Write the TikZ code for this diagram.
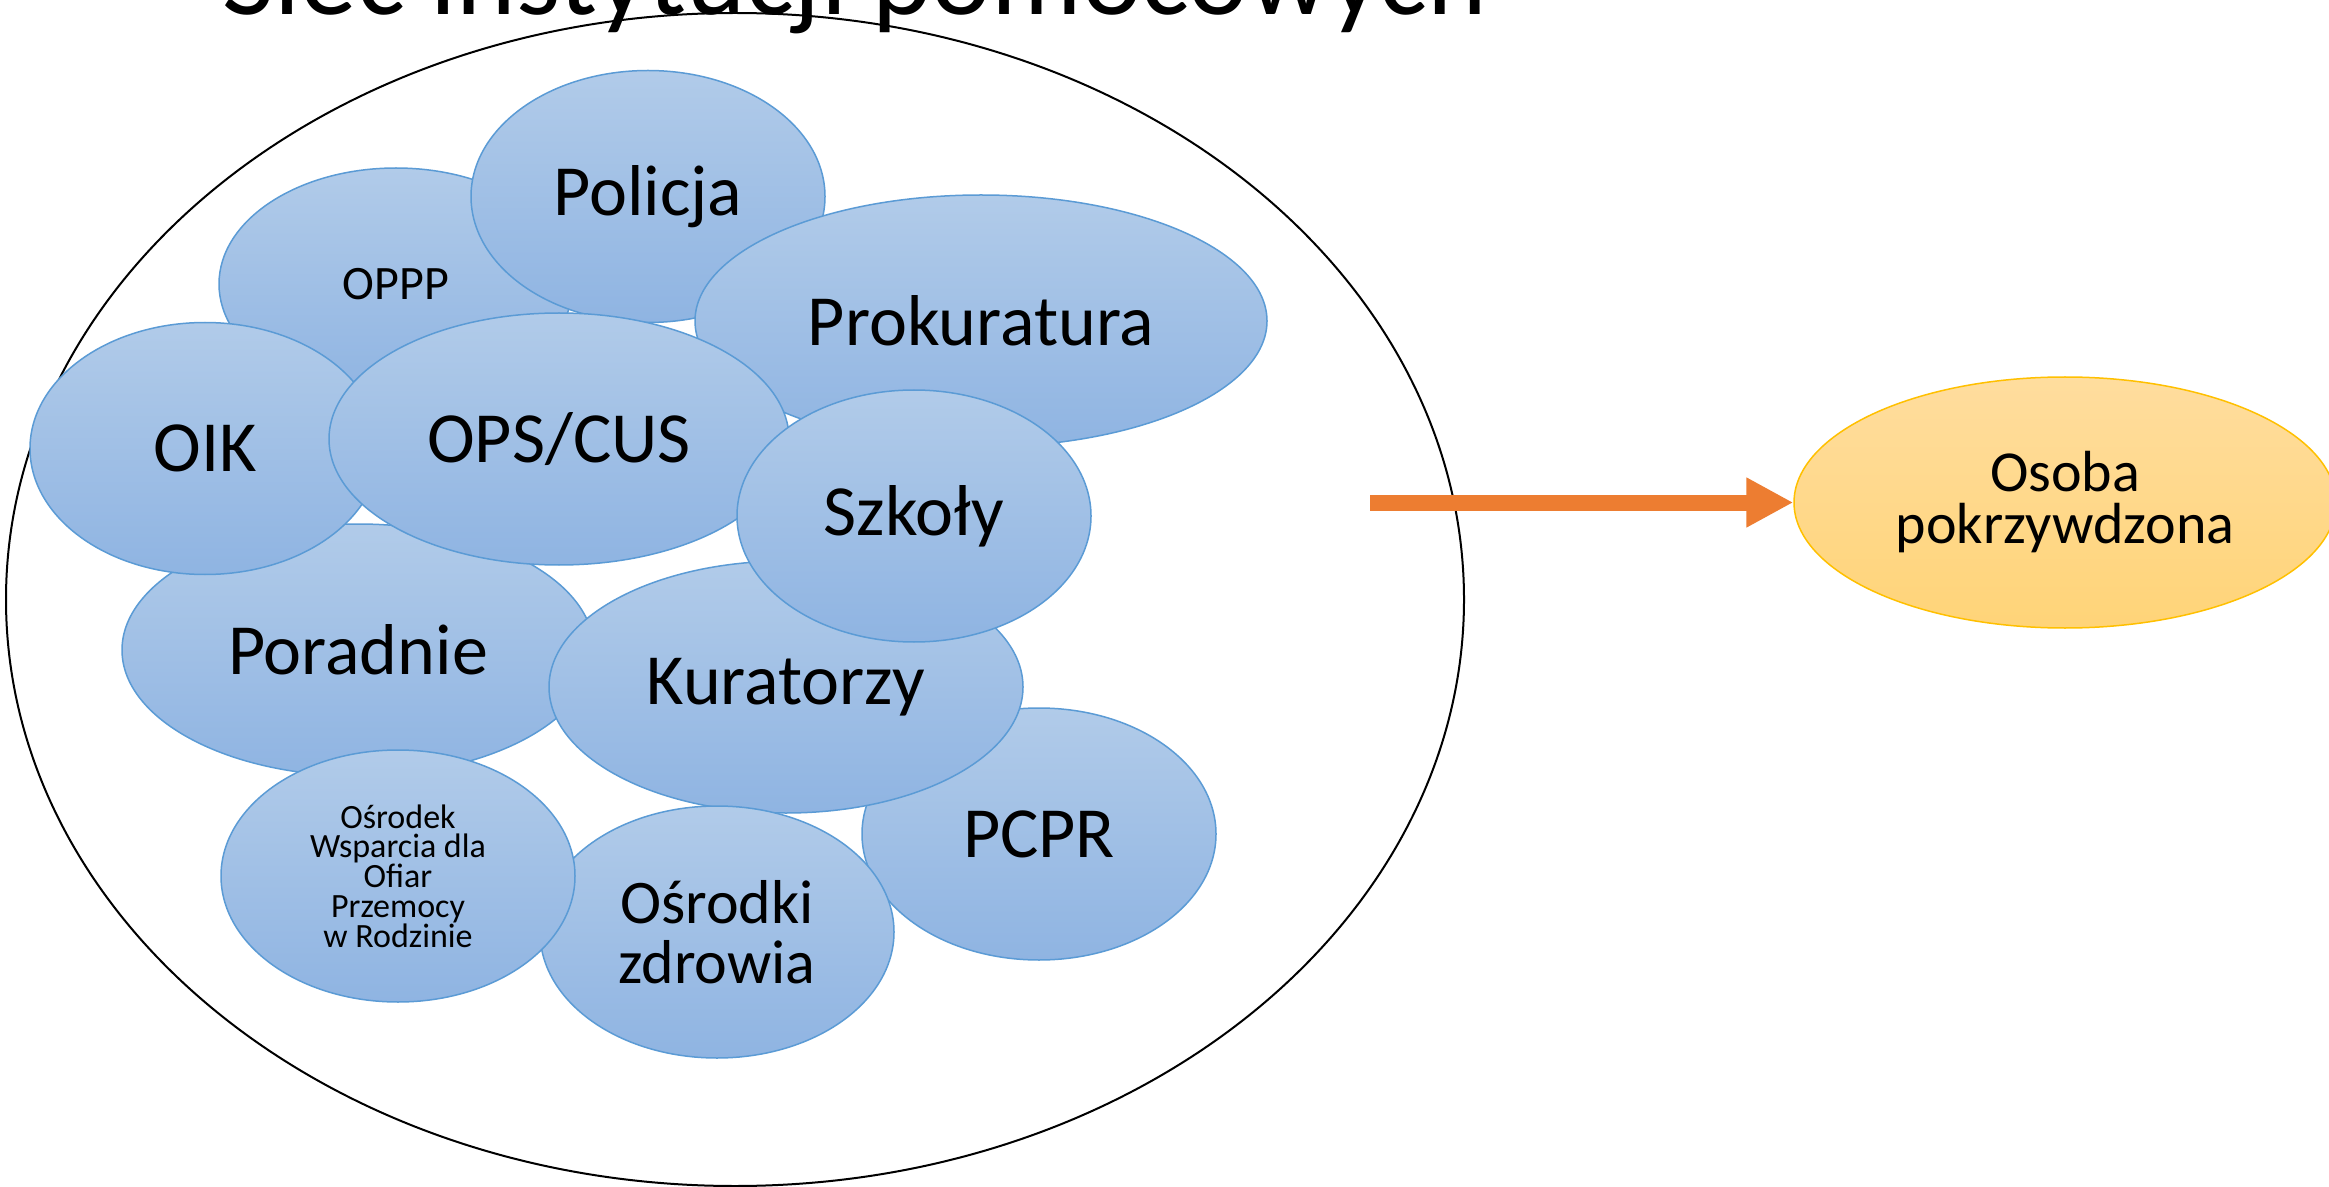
\documentclass[tikz,border=0pt]{standalone}
\usepackage{fontspec}
\setmainfont{Carlito}
\usetikzlibrary{shapes.geometric,arrows.meta}
\definecolor{bluetop}{HTML}{B1CBE9}
\definecolor{bluebot}{HTML}{8FB4E2}
\definecolor{blueline}{HTML}{5B9BD5}
\definecolor{orangetop}{HTML}{FFDD9E}
\definecolor{orangebot}{HTML}{FFD478}
\definecolor{orangeline}{HTML}{FFC000}
\definecolor{arrowc}{HTML}{ED7D31}
\begin{document}
\begin{tikzpicture}[x=0.5pt,y=-0.5pt,
  inst/.style={ellipse, draw=blueline, line width=0.75pt, top color=bluetop, bottom color=bluebot,
    inner sep=0pt, align=center, text=black, minimum height=126pt},
  bigtxt/.style={font=\fontsize{36}{43}\selectfont},
  person/.style={ellipse, draw=orangeline, line width=0.75pt, top color=orangetop, bottom color=orangebot,
    inner sep=0pt, align=center, text=black, font=\fontsize{29}{26}\selectfont}]
\useasboundingbox (0,0) rectangle (2329,1187);
\clip (0,0) rectangle (2329,1187);
\fill[white] (0,0) rectangle (2329,1187);
\node[anchor=base, font=\fontsize{56.6}{60}\selectfont, inner sep=0pt] (title) at (855,15) {Sieć instytucji pomocowych};
\node[ellipse, draw=black, line width=1pt, minimum width=729pt, minimum height=586.5pt, inner sep=0pt] (net) at (735,599.5) {};
\node[inst, minimum width=177pt, minimum height=116pt, font=\fontsize{24}{29}\selectfont] (oppp) at (396,284) {OPPP};
\node[inst, bigtxt, minimum width=177pt] (policja) at (648,196.5) {Policja};
\node[inst, bigtxt, minimum width=286pt] (prok) at (981,321) {Prokuratura};
\node[inst, bigtxt, minimum width=236pt] (poradnie) at (358,650) {Poradnie};
\node[inst, bigtxt, minimum width=175pt] (oik) at (205,448.5) {OIK};
\node[inst, bigtxt, minimum width=230pt] (ops) at (559,439) {OPS/CUS};
\node[inst, bigtxt, minimum width=177pt] (pcpr) at (1039,834) {PCPR};
\node[inst, bigtxt, minimum width=237pt] (kur) at (786,687) {Kuratorzy};
\node[inst, bigtxt, minimum width=177pt] (szkoly) at (914,516) {Szkoły};
\node[inst, minimum width=177pt, font=\fontsize{31}{30}\selectfont] (zdrowia) at (717,932) {Ośrodki\\zdrowia};
\node[inst, minimum width=177pt, font=\fontsize{17}{14.9}\selectfont] (wsparcie) at (398,876) {Ośrodek\\Wsparcia dla\\Ofiar\\Przemocy\\w Rodzinie};
\node[person, minimum width=271pt, minimum height=125.5pt] (osoba) at (2065,502.5) {Osoba\\pokrzywdzona};
\coordinate (start) at (1370,502.5);
\draw[arrowc, line width=8pt, -{Triangle[length=23.5pt,width=23.5pt]}] (start) -- (osoba.west);
\end{tikzpicture}
\end{document}
